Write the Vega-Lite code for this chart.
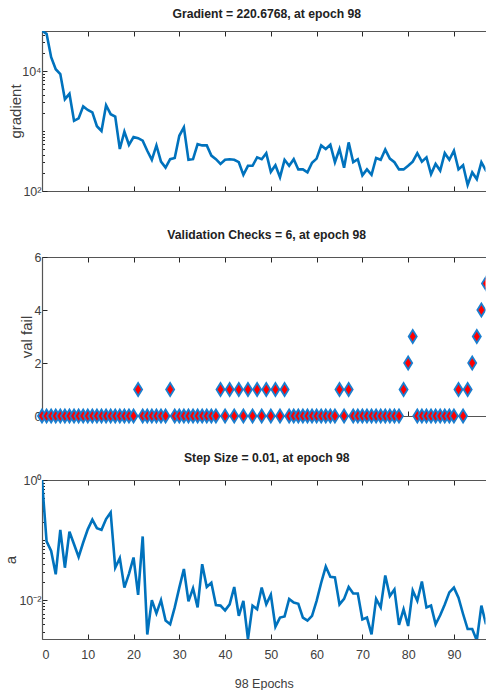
{
  "$schema": "https://vega.github.io/schema/vega-lite/v6.json",
  "padding": {"left": 3, "top": 8, "right": 0, "bottom": 0},
  "spacing": 24,
  "config": {
    "view": {"stroke": null},
    "axis": {
      "grid": false,
      "labelFont": "Liberation Sans, sans-serif",
      "labelFontSize": 12.5,
      "labelColor": "#404040",
      "tickColor": "#262626",
      "tickSize": -5,
      "domainColor": "#555555",
      "domainWidth": 1.2,
      "titleFont": "Liberation Sans, sans-serif",
      "titleFontWeight": "normal",
      "titleFontSize": 15,
      "titleColor": "#404040"
    },
    "title": {
      "font": "Liberation Sans, sans-serif",
      "fontSize": 12.2,
      "fontWeight": "bold",
      "color": "#222222",
      "offset": 10,
      "dx": 3
    }
  },
  "datasets": {
    "train": [
      {"epoch": 0, "gradient": 46774, "valfail": 0, "stepsize": 1},
      {"epoch": 1, "gradient": 41687, "valfail": 0, "stepsize": 0.0955},
      {"epoch": 2, "gradient": 16982, "valfail": 0, "stepsize": 0.0661},
      {"epoch": 3, "gradient": 10715, "valfail": 0, "stepsize": 0.0269},
      {"epoch": 4, "gradient": 8913, "valfail": 0, "stepsize": 0.148},
      {"epoch": 5, "gradient": 3388, "valfail": 0, "stepsize": 0.0347},
      {"epoch": 6, "gradient": 4169, "valfail": 0, "stepsize": 0.138},
      {"epoch": 7, "gradient": 1479, "valfail": 0, "stepsize": 0.0851},
      {"epoch": 8, "gradient": 1622, "valfail": 0, "stepsize": 0.0525},
      {"epoch": 9, "gradient": 2570, "valfail": 0, "stepsize": 0.0912},
      {"epoch": 10, "gradient": 2239, "valfail": 0, "stepsize": 0.151},
      {"epoch": 11, "gradient": 2042, "valfail": 0, "stepsize": 0.219},
      {"epoch": 12, "gradient": 1202, "valfail": 0, "stepsize": 0.158},
      {"epoch": 13, "gradient": 1000, "valfail": 0, "stepsize": 0.148},
      {"epoch": 14, "gradient": 2692, "valfail": 0, "stepsize": 0.224},
      {"epoch": 15, "gradient": 1905, "valfail": 0, "stepsize": 0.288},
      {"epoch": 16, "gradient": 1738, "valfail": 0, "stepsize": 0.0347},
      {"epoch": 17, "gradient": 501, "valfail": 0, "stepsize": 0.0501},
      {"epoch": 18, "gradient": 977, "valfail": 0, "stepsize": 0.0162},
      {"epoch": 19, "gradient": 589, "valfail": 0, "stepsize": 0.0275},
      {"epoch": 20, "gradient": 794, "valfail": 0, "stepsize": 0.0513},
      {"epoch": 21, "gradient": 759, "valfail": 1, "stepsize": 0.0123},
      {"epoch": 22, "gradient": 692, "valfail": 0, "stepsize": 0.115},
      {"epoch": 23, "gradient": 468, "valfail": 0, "stepsize": 0.00269},
      {"epoch": 24, "gradient": 331, "valfail": 0, "stepsize": 0.01},
      {"epoch": 25, "gradient": 575, "valfail": 0, "stepsize": 0.00603},
      {"epoch": 26, "gradient": 309, "valfail": 0, "stepsize": 0.01},
      {"epoch": 27, "gradient": 245, "valfail": 0, "stepsize": 0.00457},
      {"epoch": 28, "gradient": 339, "valfail": 1, "stepsize": 0.00398},
      {"epoch": 29, "gradient": 355, "valfail": 0, "stepsize": 0.00759},
      {"epoch": 30, "gradient": 832, "valfail": 0, "stepsize": 0.0162},
      {"epoch": 31, "gradient": 1148, "valfail": 0, "stepsize": 0.0331},
      {"epoch": 32, "gradient": 331, "valfail": 0, "stepsize": 0.00955},
      {"epoch": 33, "gradient": 339, "valfail": 0, "stepsize": 0.0158},
      {"epoch": 34, "gradient": 603, "valfail": 0, "stepsize": 0.00759},
      {"epoch": 35, "gradient": 575, "valfail": 0, "stepsize": 0.0398},
      {"epoch": 36, "gradient": 575, "valfail": 0, "stepsize": 0.0166},
      {"epoch": 37, "gradient": 389, "valfail": 0, "stepsize": 0.0195},
      {"epoch": 38, "gradient": 339, "valfail": 0, "stepsize": 0.00832},
      {"epoch": 39, "gradient": 282, "valfail": 1, "stepsize": 0.00813},
      {"epoch": 40, "gradient": 331, "valfail": 0, "stepsize": 0.00676},
      {"epoch": 41, "gradient": 339, "valfail": 1, "stepsize": 0.00851},
      {"epoch": 42, "gradient": 331, "valfail": 0, "stepsize": 0.0166},
      {"epoch": 43, "gradient": 302, "valfail": 1, "stepsize": 0.0055},
      {"epoch": 44, "gradient": 186, "valfail": 0, "stepsize": 0.00977},
      {"epoch": 45, "gradient": 263, "valfail": 1, "stepsize": 0.00224},
      {"epoch": 46, "gradient": 263, "valfail": 0, "stepsize": 0.00813},
      {"epoch": 47, "gradient": 363, "valfail": 1, "stepsize": 0.00708},
      {"epoch": 48, "gradient": 339, "valfail": 0, "stepsize": 0.0162},
      {"epoch": 49, "gradient": 427, "valfail": 1, "stepsize": 0.00851},
      {"epoch": 50, "gradient": 209, "valfail": 0, "stepsize": 0.0123},
      {"epoch": 51, "gradient": 269, "valfail": 1, "stepsize": 0.00363},
      {"epoch": 52, "gradient": 170, "valfail": 0, "stepsize": 0.00513},
      {"epoch": 53, "gradient": 331, "valfail": 1, "stepsize": 0.00537},
      {"epoch": 54, "gradient": 263, "valfail": 0, "stepsize": 0.0105},
      {"epoch": 55, "gradient": 339, "valfail": 0, "stepsize": 0.00912},
      {"epoch": 56, "gradient": 229, "valfail": 0, "stepsize": 0.00871},
      {"epoch": 57, "gradient": 229, "valfail": 0, "stepsize": 0.00513},
      {"epoch": 58, "gradient": 204, "valfail": 0, "stepsize": 0.00457},
      {"epoch": 59, "gradient": 295, "valfail": 0, "stepsize": 0.0055},
      {"epoch": 60, "gradient": 347, "valfail": 0, "stepsize": 0.00977},
      {"epoch": 61, "gradient": 575, "valfail": 0, "stepsize": 0.0195},
      {"epoch": 62, "gradient": 501, "valfail": 0, "stepsize": 0.0363},
      {"epoch": 63, "gradient": 589, "valfail": 0, "stepsize": 0.0245},
      {"epoch": 64, "gradient": 302, "valfail": 0, "stepsize": 0.024},
      {"epoch": 65, "gradient": 501, "valfail": 1, "stepsize": 0.00851},
      {"epoch": 66, "gradient": 245, "valfail": 0, "stepsize": 0.0105},
      {"epoch": 67, "gradient": 646, "valfail": 1, "stepsize": 0.0166},
      {"epoch": 68, "gradient": 302, "valfail": 0, "stepsize": 0.0129},
      {"epoch": 69, "gradient": 339, "valfail": 0, "stepsize": 0.0129},
      {"epoch": 70, "gradient": 182, "valfail": 0, "stepsize": 0.00479},
      {"epoch": 71, "gradient": 229, "valfail": 0, "stepsize": 0.00513},
      {"epoch": 72, "gradient": 186, "valfail": 0, "stepsize": 0.00269},
      {"epoch": 73, "gradient": 355, "valfail": 0, "stepsize": 0.0105},
      {"epoch": 74, "gradient": 331, "valfail": 0, "stepsize": 0.00759},
      {"epoch": 75, "gradient": 490, "valfail": 0, "stepsize": 0.0257},
      {"epoch": 76, "gradient": 347, "valfail": 0, "stepsize": 0.0117},
      {"epoch": 77, "gradient": 302, "valfail": 0, "stepsize": 0.0151},
      {"epoch": 78, "gradient": 229, "valfail": 0, "stepsize": 0.00389},
      {"epoch": 79, "gradient": 229, "valfail": 1, "stepsize": 0.00708},
      {"epoch": 80, "gradient": 263, "valfail": 2, "stepsize": 0.00372},
      {"epoch": 81, "gradient": 309, "valfail": 3, "stepsize": 0.0145},
      {"epoch": 82, "gradient": 427, "valfail": 0, "stepsize": 0.00977},
      {"epoch": 83, "gradient": 309, "valfail": 0, "stepsize": 0.0204},
      {"epoch": 84, "gradient": 363, "valfail": 0, "stepsize": 0.00759},
      {"epoch": 85, "gradient": 191, "valfail": 0, "stepsize": 0.00813},
      {"epoch": 86, "gradient": 282, "valfail": 0, "stepsize": 0.00398},
      {"epoch": 87, "gradient": 219, "valfail": 0, "stepsize": 0.00562},
      {"epoch": 88, "gradient": 427, "valfail": 0, "stepsize": 0.00851},
      {"epoch": 89, "gradient": 331, "valfail": 0, "stepsize": 0.0135},
      {"epoch": 90, "gradient": 468, "valfail": 0, "stepsize": 0.0162},
      {"epoch": 91, "gradient": 229, "valfail": 1, "stepsize": 0.011},
      {"epoch": 92, "gradient": 269, "valfail": 0, "stepsize": 0.00589},
      {"epoch": 93, "gradient": 126, "valfail": 1, "stepsize": 0.00331},
      {"epoch": 94, "gradient": 204, "valfail": 2, "stepsize": 0.00331},
      {"epoch": 95, "gradient": 158, "valfail": 3, "stepsize": 0.00214},
      {"epoch": 96, "gradient": 302, "valfail": 4, "stepsize": 0.00813},
      {"epoch": 97, "gradient": 219, "valfail": 5, "stepsize": 0.00398},
      {"epoch": 98, "gradient": 220.6768, "valfail": 6, "stepsize": 0.01}
    ]
  },
  "vconcat": [
    {
      "spacing": 30,
      "vconcat": [
        {
          "width": 443.5,
          "height": 160,
          "title": "Gradient = 220.6768, at epoch 98",
          "data": {"name": "train"},
          "layer": [
            {
              "mark": {"type": "line", "color": "#0072BD", "strokeWidth": 2.6, "clip": true},
              "encoding": {
                "x": {"field": "epoch", "type": "quantitative", "scale": {"domain": [0, 96.9], "nice": false, "zero": false},
                      "axis": {"orient": "bottom", "values": [0,10,20,30,40,50,60,70,80,90], "labels": false, "title": null}},
                "y": {"field": "gradient", "type": "quantitative", "scale": {"type": "log", "domain": [100, 46416], "nice": false},
                      "axis": {"values": [100,200,300,400,500,600,700,800,900,1000,2000,3000,4000,5000,6000,7000,8000,9000,10000,20000,30000,40000],
                               "labelExpr": "datum.value == 100 ? '10²' : datum.value == 10000 ? '10⁴' : ''",
                               "tickSize": {"condition": {"test": "datum.value == 100 || datum.value == 10000", "value": -5}, "value": -2.5},
                               "labelPadding": 6, "title": "gradient", "titleX": -27, "titleBaseline": "middle"}}
              }
            },
            {
              "mark": {"type": "line", "opacity": 0, "clip": true},
              "encoding": {
                "x": {"field": "epoch", "type": "quantitative", "axis": {"orient": "top", "values": [0,10,20,30,40,50,60,70,80,90], "labels": false, "title": null}},
                "y": {"field": "gradient", "type": "quantitative"}
              }
            }
          ],
          "resolve": {"axis": {"x": "independent"}}
        },
        {
          "width": 443.5,
          "height": 159,
          "title": "Validation Checks = 6, at epoch 98",
          "data": {"name": "train"},
          "layer": [
            {
              "transform": [{"filter": "datum.epoch <= 95"}],
              "mark": {"type": "point", "shape": "M0,-1L0.62,0L0,1L-0.62,0Z", "filled": true, "fill": "#ff0000", "stroke": "#1a7fd0", "strokeWidth": 1.8, "opacity": 1, "size": 170},
              "encoding": {
                "x": {"field": "epoch", "type": "quantitative", "scale": {"domain": [0, 96.9], "nice": false, "zero": false},
                      "axis": {"orient": "bottom", "values": [0,10,20,30,40,50,60,70,80,90], "labels": false, "title": null}},
                "y": {"field": "valfail", "type": "quantitative", "scale": {"domain": [0, 6], "nice": false},
                      "axis": {"values": [0, 2, 4, 6], "labelPadding": 6, "title": "val fail", "titleX": -15.5, "titleBaseline": "middle"}}
              }
            },
            {
              "transform": [{"filter": "datum.epoch >= 96"}],
              "mark": {"type": "point", "shape": "M0,-1L0.62,0L0,1L-0.62,0Z", "filled": true, "fill": "#ff0000", "stroke": "#1a7fd0", "strokeWidth": 1.8, "opacity": 1, "size": 170, "clip": true},
              "encoding": {
                "x": {"field": "epoch", "type": "quantitative", "axis": {"orient": "top", "values": [0,10,20,30,40,50,60,70,80,90], "labels": false, "title": null}},
                "y": {"field": "valfail", "type": "quantitative"}
              }
            }
          ],
          "resolve": {"axis": {"x": "independent"}}
        }
      ]
    },
    {
      "width": 443.5,
      "height": 159,
      "title": "Step Size = 0.01, at epoch 98",
      "data": {"name": "train"},
      "layer": [
        {
          "mark": {"type": "line", "color": "#0072BD", "strokeWidth": 2.6, "clip": true},
          "encoding": {
            "x": {"field": "epoch", "type": "quantitative", "scale": {"domain": [0, 96.9], "nice": false, "zero": false},
                  "axis": {"orient": "bottom", "values": [0,10,20,30,40,50,60,70,80,90], "labelPadding": 14, "title": "98 Epochs", "titleFontSize": 12.5, "titlePadding": 17}},
            "y": {"field": "stepsize", "type": "quantitative", "scale": {"type": "log", "domain": [0.00226, 1], "nice": false},
                  "axis": {"values": [0.003,0.004,0.005,0.006,0.007,0.008,0.009,0.01,0.02,0.03,0.04,0.05,0.06,0.07,0.08,0.09,0.1,0.2,0.3,0.4,0.5,0.6,0.7,0.8,0.9,1],
                           "labelExpr": "datum.value == 1 ? '10⁰' : datum.value == 0.01 ? '10⁻²' : ''",
                           "tickSize": {"condition": {"test": "datum.value == 1 || datum.value == 0.01", "value": -5}, "value": -2.5},
                           "labelPadding": 6, "title": "a", "titleX": -31.5, "titleBaseline": "middle"}}
          }
        },
        {
          "mark": {"type": "line", "opacity": 0, "clip": true},
          "encoding": {
            "x": {"field": "epoch", "type": "quantitative", "axis": {"orient": "top", "values": [0,10,20,30,40,50,60,70,80,90], "labels": false, "title": null}},
            "y": {"field": "stepsize", "type": "quantitative"}
          }
        }
      ],
      "resolve": {"axis": {"x": "independent"}}
    }
  ]
}
